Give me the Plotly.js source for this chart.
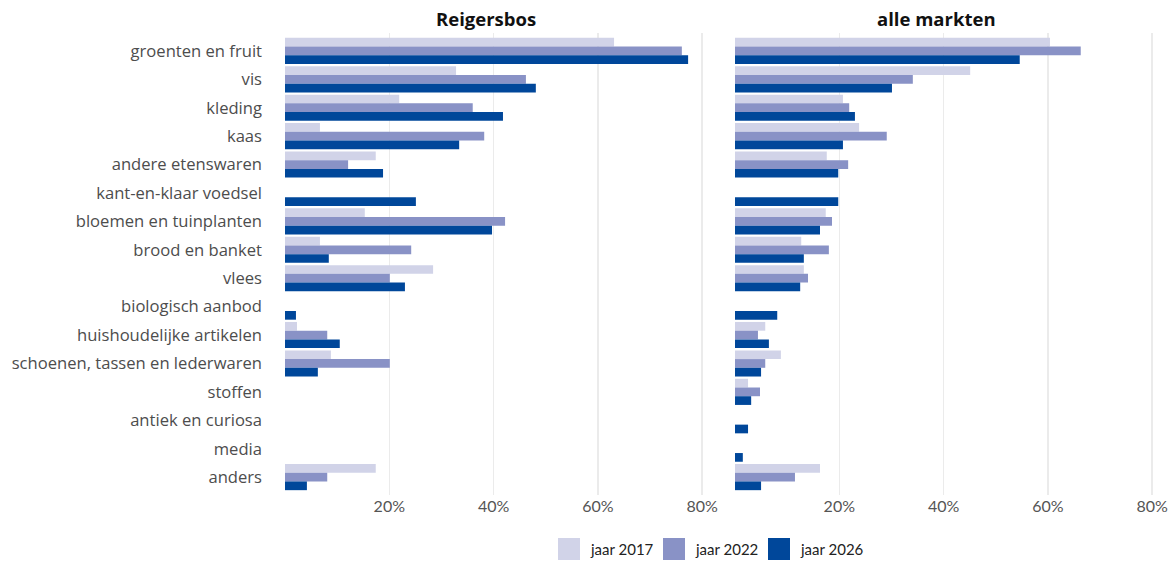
<!DOCTYPE html>
<html><head><meta charset="utf-8">
<script src="https://cdn.plot.ly/plotly-3.0.1.min.js"></script>
<style>body{margin:0;background:#fff}#chart{width:1174px;height:563px}</style>
</head><body><div id="chart"></div>
<script>
const categories = ["groenten en fruit","vis","kleding","kaas","andere etenswaren","kant-en-klaar voedsel","bloemen en tuinplanten","brood en banket","vlees","biologisch aanbod","huishoudelijke artikelen","schoenen, tassen en lederwaren","stoffen","antiek en curiosa","media","anders"];
const seriesNames = ["jaar 2017","jaar 2022","jaar 2026"];
const seriesColors = ["#D1D3E8","#8992C6","#00479A"];
const panelTitles = ["Reigersbos","alle markten"];
// Reigersbos (%)
const reig2017 = [63.1,32.8,21.9,6.7,17.4,null,15.3,6.7,28.4,null,2.3,8.8,null,null,null,17.4];
const reig2022 = [76.1,46.2,36.0,38.2,12.1,null,42.2,24.2,20.1,null,8.1,20.1,null,null,null,8.1];
const reig2026 = [77.3,48.1,41.8,33.4,18.8,25.1,39.7,8.4,23.0,2.1,10.5,6.3,null,null,null,4.2];
// alle markten (%)
const alle2017 = [60.4,45.1,20.7,23.8,17.6,null,17.4,12.7,13.2,null,5.8,8.8,2.5,null,null,16.3];
const alle2022 = [66.3,34.1,21.9,29.1,21.7,null,18.6,18.0,14.0,null,4.4,5.8,4.8,null,null,11.5];
const alle2026 = [54.6,30.1,23.0,20.7,19.8,19.8,16.3,13.2,12.5,8.1,6.5,5.0,3.1,2.5,1.5,5.0];
const tickVals = [20,40,60,80];
const tickText = ["20%","40%","60%","80%"];

const W = 1174, H = 563;
const FONT = "'Open Sans', sans-serif";
const FONT2 = "Lato, sans-serif";
const panels = [[reig2017,reig2022,reig2026],[alle2017,alle2022,alle2026]];
const traces = [];
panels.forEach((p,pi)=>{
  p.forEach((vals,si)=>{
    traces.push({
      type:"bar", orientation:"h", y:categories, x:vals,
      name:seriesNames[si], marker:{color:seriesColors[si], line:{width:0}},
      xaxis: pi===0?"x":"x2", yaxis: pi===0?"y":"y2",
      showlegend:false, hoverinfo:"x+y+name"
    });
  });
});

const px = v => v/W;
const py = v => 1 - v/H;
const xCommon = {range:[0,81], tickvals:tickVals, ticktext:tickText, showgrid:true, gridcolor:"#EBEBEB", gridwidth:1.5,
  zeroline:false, showline:false, ticks:"", tickfont:{family:FONT2,size:16,color:"#555"}, fixedrange:true};
const yCommon = {type:"category", range:[15.63,-0.63], showgrid:false, zeroline:false, showline:false, ticks:"",
  domain:[py(495), py(33)], fixedrange:true};

const shapes = [], annotations = [];
panelTitles.forEach((t,i)=>{
  annotations.push({text:"<b>"+t+"</b>", xref:"paper", yref:"paper", x:px(i===0?485.5:936), y:py(18),
    xanchor:"center", yanchor:"middle", showarrow:false, font:{family:FONT,size:18.5,color:"#111"}});
});
const legX = [558,663,768];
seriesNames.forEach((n,i)=>{
  shapes.push({type:"rect", xref:"paper", yref:"paper", x0:px(legX[i]), x1:px(legX[i]+22), y0:py(560), y1:py(538),
    fillcolor:seriesColors[i], line:{width:0}});
  annotations.push({text:n, xref:"paper", yref:"paper", x:px(legX[i]+30), y:py(549), xanchor:"left", yanchor:"middle",
    showarrow:false, font:{family:FONT2,size:15,color:"#222"}});
});

const layout = {
  width:W, height:H, margin:{l:0,r:0,t:0,b:0}, paper_bgcolor:"#fff", plot_bgcolor:"#fff",
  barmode:"group", bargap:0.08, bargroupgap:0, showlegend:false,
  font:{family:FONT},
  xaxis:Object.assign({}, xCommon, {domain:[px(285), px(707.4)], anchor:"y"}),
  xaxis2:Object.assign({}, xCommon, {domain:[px(735), px(1157.4)], anchor:"y2"}),
  yaxis:Object.assign({}, yCommon, {anchor:"x", showticklabels:true, ticklabelstandoff:22,
    tickfont:{family:FONT,size:16.6,color:"#4d4d4d"}}),
  yaxis2:Object.assign({}, yCommon, {anchor:"x2", matches:"y", showticklabels:false}),
  shapes:shapes, annotations:annotations
};
Plotly.newPlot("chart", traces, layout, {displayModeBar:false, staticPlot:true});
</script></body></html>
